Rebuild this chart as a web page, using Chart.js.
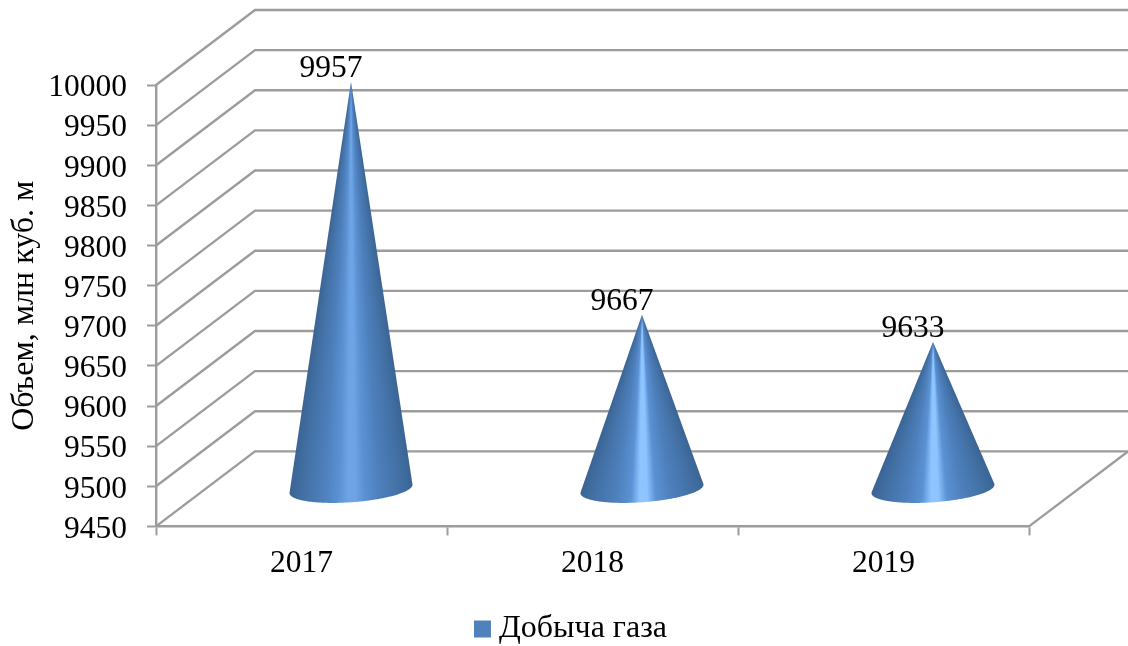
<!DOCTYPE html>
<html>
<head>
<meta charset="utf-8">
<style>
  html, body { margin: 0; padding: 0; background: #fff; }
  canvas { display: block; }
</style>
<script src="https://cdn.jsdelivr.net/npm/chart.js@4/dist/chart.umd.js"></script>
</head>
<body>
<canvas id="chart" width="1128" height="646"></canvas>
<script>
const categories = ["2017", "2018", "2019"];
const gasOutput = [9957, 9667, 9633];
const seriesName = "Добыча газа";
const axisTitle = "Объем, млн куб. м";

const FONT = "'Liberation Serif', 'Times New Roman', serif";
const GRID = "#9c9c9c";
const DEPTH_X = 99;
const DEPTH_Y = 75;
const BASE_DEPTH = 0.187; // half depth of a cone's foot, as a part of the floor depth

// lighter streak on the short cones than on the tall one
const streaks = ["#6ea3e4", "#8ec4ff", "#8ec4ff"];

// back wall and side wall, same lines the value axis ticks sit on
const wallPlugin = {
  id: "wall",
  beforeDatasetsDraw(chart) {
    const { ctx, chartArea, scales } = chart;
    ctx.save();
    ctx.strokeStyle = GRID;
    ctx.lineWidth = 2.4;
    scales.y.ticks.forEach((tick) => {
      const y = scales.y.getPixelForValue(tick.value);
      ctx.beginPath();
      ctx.moveTo(chartArea.left, y);
      ctx.lineTo(chartArea.left + DEPTH_X, y - DEPTH_Y);
      ctx.lineTo(chartArea.right + DEPTH_X, y - DEPTH_Y);
      ctx.stroke();
    });
    ctx.beginPath();
    ctx.moveTo(chartArea.right, chartArea.bottom);
    ctx.lineTo(chartArea.right + DEPTH_X, chartArea.bottom - DEPTH_Y);
    ctx.stroke();
    ctx.restore();
  }
};

function drawCone(ctx, bar, floorY, streak) {
  const w = bar.width / 2;
  const skewX = DEPTH_X * BASE_DEPTH;
  const skewY = DEPTH_Y * BASE_DEPTH;
  const cx = bar.x + DEPTH_X / 2;
  const cy = floorY - DEPTH_Y / 2;
  const apexX = cx;
  const apexY = bar.y - DEPTH_Y / 2;

  const footPoint = (t) => [
    cx + w * Math.cos(t) + skewX * Math.sin(t),
    cy - skewY * Math.sin(t)
  ];

  // find where the sides touch the foot of the cone
  let leftT = 0, rightT = 0, leftA = Infinity, rightA = -Infinity;
  for (let deg = 0; deg < 360; deg++) {
    const t = (deg * Math.PI) / 180;
    const p = footPoint(t);
    const a = Math.atan2(p[0] - apexX, p[1] - apexY);
    if (a < leftA) { leftA = a; leftT = t; }
    if (a > rightA) { rightA = a; rightT = t; }
  }
  while (rightT < leftT) rightT += Math.PI * 2;

  ctx.beginPath();
  ctx.moveTo(apexX, apexY);
  for (let t = leftT; t <= rightT; t += 0.02) {
    const p = footPoint(t);
    ctx.lineTo(p[0], p[1]);
  }
  const end = footPoint(rightT);
  ctx.lineTo(end[0], end[1]);
  ctx.closePath();

  // shading fans out of the tip
  const from = Math.PI / 2 - rightA;
  const to = Math.PI / 2 - leftA;
  const grad = ctx.createConicGradient(0, apexX, apexY);
  const stop = (f, color) => grad.addColorStop((from + (to - from) * f) / (Math.PI * 2), color);
  stop(0, "#3a6494");
  stop(0.1, "#4270a4");
  stop(0.28, "#4e80bd");
  stop(0.4, "#5b92d4");
  stop(0.47, streak);
  stop(0.53, streak);
  stop(0.6, "#5b92d4");
  stop(0.72, "#4e80bd");
  stop(0.9, "#4270a4");
  stop(1, "#3a6494");
  ctx.fillStyle = grad;
  ctx.fill();
}

const conePlugin = {
  id: "cones",
  // the bars only carry the geometry, cones are painted instead
  beforeDatasetDraw() {
    return false;
  },
  afterDatasetsDraw(chart) {
    const { ctx, chartArea } = chart;
    const bars = chart.getDatasetMeta(0).data;
    ctx.save();
    bars.forEach((bar, i) => drawCone(ctx, bar, chartArea.bottom, streaks[i]));
    ctx.fillStyle = "#000";
    ctx.font = "31.5px " + FONT;
    ctx.textAlign = "center";
    ctx.textBaseline = "middle";
    bars.forEach((bar, i) => {
      ctx.fillText(String(gasOutput[i]), bar.x + DEPTH_X / 2 - 20, bar.y - DEPTH_Y / 2 - 13);
    });
    ctx.restore();
  }
};

new Chart(document.getElementById("chart"), {
  type: "bar",
  data: {
    labels: categories,
    datasets: [
      {
        label: seriesName,
        data: gasOutput,
        backgroundColor: "#4f81bd",
        categoryPercentage: 1,
        barPercentage: 0.403
      }
    ]
  },
  options: {
    responsive: false,
    animation: false,
    // negative bottom lets the legend's empty lower part hang off the page
    layout: { padding: { left: 21, top: 85, right: 0, bottom: -9 } },
    plugins: {
      tooltip: { enabled: false },
      legend: {
        position: "bottom",
        labels: {
          usePointStyle: true,
          pointStyle: "rect",
          boxWidth: 1,
          boxHeight: 17,
          padding: 0,
          color: "#000",
          font: { family: FONT, size: 32 }
        }
      }
    },
    scales: {
      x: {
        grid: {
          drawOnChartArea: false,
          tickLength: 9,
          tickColor: GRID,
          tickWidth: 2
        },
        border: { color: GRID, width: 2.4 },
        ticks: {
          color: "#000",
          padding: 9,
          maxRotation: 0,
          autoSkip: false,
          font: { family: FONT, size: 31.5 }
        },
        afterFit(scale) {
          scale.height = 86.6;
        }
      },
      y: {
        min: 9450,
        max: 10000,
        grid: {
          drawOnChartArea: false,
          tickLength: 9,
          tickColor: GRID,
          tickWidth: 2
        },
        border: { color: GRID, width: 2.4 },
        ticks: {
          stepSize: 50,
          color: "#000",
          padding: 20,
          labelOffset: 3,
          autoSkip: false,
          callback: (v) => String(v),
          font: { family: FONT, size: 31.5 }
        },
        title: {
          display: true,
          text: axisTitle,
          color: "#000",
          padding: { top: -16, bottom: 0 },
          font: { family: FONT, size: 32 }
        },
        afterFit(scale) {
          scale.width = 135;
        }
      },
      // empty axis, keeps room for the wall that sticks out to the right
      spacer: {
        position: "right",
        grid: { display: false },
        border: { display: false },
        ticks: { display: false },
        afterFit(scale) {
          scale.width = 99;
        }
      }
    }
  },
  plugins: [wallPlugin, conePlugin]
});
</script>
</body>
</html>
